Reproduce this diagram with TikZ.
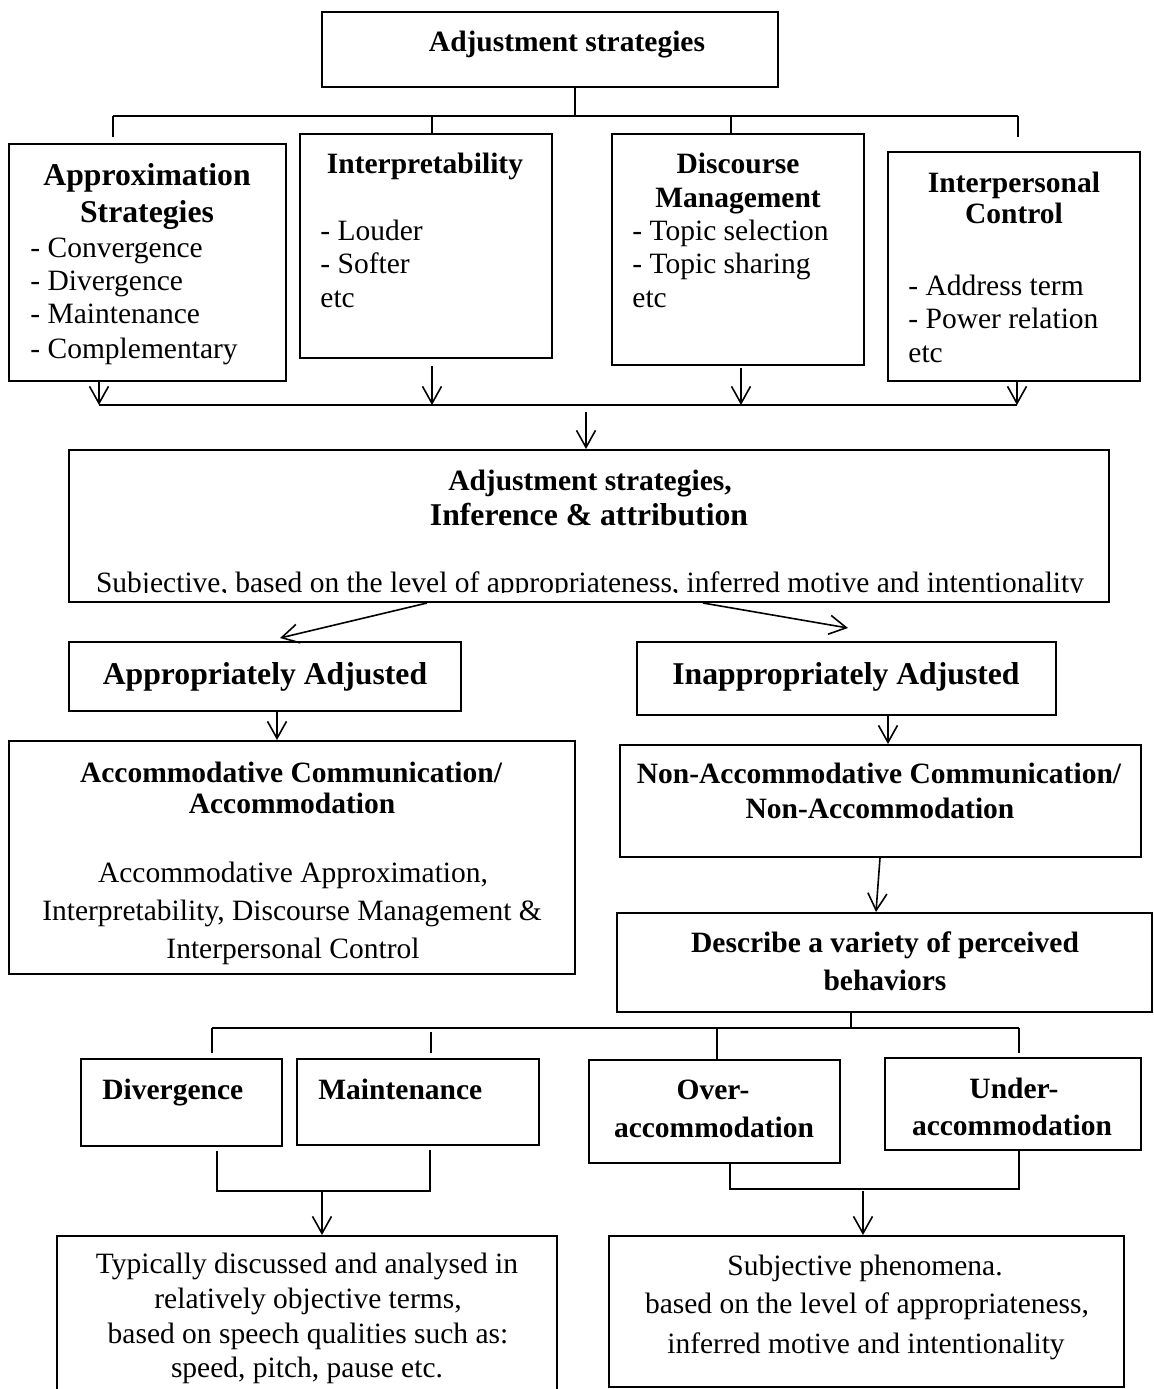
\documentclass[tikz,border=0pt]{standalone}
\usepackage{fontspec}
\setmainfont{Liberation Serif}
\usetikzlibrary{arrows.meta,fit}
\tikzset{
  box/.style={draw, line width=1pt, inner sep=0pt},
  conn/.style={line width=0.8pt},
  arr/.style={conn, -{Straight Barb[length=8.5pt,width=9.5pt,line width=0.8pt]}},
  tr/.style={font=\fontsize{14.75}{17}\selectfont, inner sep=0pt, anchor=base},
  tb/.style={font=\fontsize{14.75}{17}\selectfont\bfseries, inner sep=0pt, anchor=base},
  tB/.style={font=\fontsize{15.85}{19}\selectfont\bfseries, inner sep=0pt, anchor=base},
  lf/.style={anchor=base west}
}
\begin{document}
\begin{tikzpicture}[x=0.5pt,y=-0.5pt]
\clip (0,0) rectangle (1154,1389);
\fill[white] (0,0) rectangle (1154,1389);

% ---------- boxes ----------
\node[box, fit={(322,12) (778,87)}] (top) {};
\node[box, fit={(9,144) (286,381)}] (ap) {};
\node[box, fit={(300,134) (552,358)}] (ip) {};
\node[box, fit={(612,134) (864,365)}] (dm) {};
\node[box, fit={(888,152) (1140,381)}] (ic) {};
\node[box, fit={(69,450) (1109,602)}] (big) {};
\node[box, fit={(69,642) (461,711)}] (aa) {};
\node[box, fit={(637,642) (1056,715)}] (ia) {};
\node[box, fit={(9,741) (575,974)}] (ac) {};
\node[box, fit={(620,745) (1141,857)}] (nac) {};
\node[box, fit={(617,913) (1152,1012)}] (desc) {};
\node[box, fit={(81,1059) (282,1146)}] (dv) {};
\node[box, fit={(297,1059) (539,1145)}] (mt) {};
\node[box, fit={(589,1060) (840,1163)}] (ov) {};
\node[box, fit={(885,1058) (1141,1150)}] (un) {};
\node[box, fit={(57,1236) (557,1410)}] (bl) {};
\node[box, fit={(609,1236) (1124,1387)}] (br) {};

% ---------- texts ----------
\node[tb] (t0) at (567,51) {Adjustment strategies};

\node[tB] (a1) at (147,185) {Approximation};
\node[tB] (a2) at (147,222) {Strategies};
\node[tr,lf] (a3) at (30,257) {- Convergence};
\node[tr,lf] (a4) at (30,290) {- Divergence};
\node[tr,lf] (a5) at (30,323) {- Maintenance};
\node[tr,lf] (a6) at (30,358) {- Complementary};

\node[tb] (i1) at (425,173) {Interpretability};
\node[tr,lf] (i2) at (320,240) {- Louder};
\node[tr,lf] (i3) at (320,273) {- Softer};
\node[tr,lf] (i4) at (320,307) {etc};

\node[tb] (d1) at (738,173) {Discourse};
\node[tb] (d2) at (738,207) {Management};
\node[tr,lf] (d3) at (632,240) {- Topic selection};
\node[tr,lf] (d4) at (632,273) {- Topic sharing};
\node[tr,lf] (d5) at (632,307) {etc};

\node[tb] (c1) at (1014,192) {Interpersonal};
\node[tb] (c2) at (1014,223) {Control};
\node[tr,lf] (c3) at (908,295) {- Address term};
\node[tr,lf] (c4) at (908,328) {- Power relation};
\node[tr,lf] (c5) at (908,362) {etc};

\node[tb] (g1) at (590,490) {Adjustment strategies,};
\node[tB] (g2) at (589,525) {Inference \& attribution};
\begin{scope}
\clip (69,450) rectangle (1109,592);
\node[tr] (g3) at (590,592) {Subjective, based on the level of appropriateness, inferred motive and intentionality};
\end{scope}

\node[tB] (aat) at (265,684) {Appropriately Adjusted};
\node[tB] (iat) at (846,684) {Inappropriately Adjusted};

\node[tb] (ac1) at (291,782) {Accommodative Communication/};
\node[tb] (ac2) at (292,813) {Accommodation};
\node[tr] (ac3) at (293,882) {Accommodative Approximation,};
\node[tr] (ac4) at (292,920) {Interpretability, Discourse Management \&};
\node[tr] (ac5) at (293,958) {Interpersonal Control};

\node[tb] (n1) at (879,783) {Non-Accommodative Communication/};
\node[tb] (n2) at (880,818) {Non-Accommodation};

\node[tb] (s1) at (885,952) {Describe a variety of perceived};
\node[tb] (s2) at (885,990) {behaviors};

\node[tb,lf] (dvt) at (102,1099) {Divergence};
\node[tb,lf] (mtt) at (318,1099) {Maintenance};
\node[tb] (ov1) at (713,1099) {Over-};
\node[tb] (ov2) at (714,1137) {accommodation};
\node[tb] (un1) at (1014,1098) {Under-};
\node[tb] (un2) at (1012,1135) {accommodation};

\node[tr] (b1) at (307,1273) {Typically discussed and analysed in};
\node[tr] (b2) at (308,1308) {relatively objective terms,};
\node[tr] (b3) at (308,1343) {based on speech qualities such as:};
\node[tr] (b4) at (307,1377) {speed, pitch, pause etc.};

\node[tr] (r1) at (865,1275) {Subjective phenomena.};
\node[tr] (r2) at (867,1313) {based on the level of appropriateness,};
\node[tr] (r3) at (866,1353) {inferred motive and intentionality};

% ---------- connectors: top tree ----------
\coordinate (j0) at (575,116);
\coordinate (u1) at (113,116);
\coordinate (u2) at (432,116);
\coordinate (u3) at (731,116);
\coordinate (u4) at (1018,116);
\draw[conn] (top.south -| j0) -- (j0);
\draw[conn] (u1) -- (u4);
\draw[conn] (u1) -- ++(0,21);
\draw[conn] (u2) -- (ip.north -| u2);
\draw[conn] (u3) -- (dm.north -| u3);
\draw[conn] (u4) -- ++(0,21);

% ---------- connectors: collector bus ----------
\coordinate (v1) at (99,405);
\coordinate (v2) at (432,405);
\coordinate (v3) at (741,405);
\coordinate (v4) at (1017,405);
\draw[conn] (v1) -- (v4);
\draw[arr] (ap.south -| v1) -- (v1);
\draw[arr] (ip.south -| v2) ++(0,7) -- (v2);
\draw[arr] (dm.south -| v3) ++(0,2) -- (v3);
\draw[arr] (ic.south -| v4) -- (v4);
\coordinate (v0) at (586,412);
\draw[arr] (v0) -- (big.north -| v0);

% ---------- connectors: middle ----------
\coordinate (w1) at (427,602);
\coordinate (w1t) at (280,638);
\coordinate (w2) at (703,602);
\coordinate (w2t) at (848,628);
\draw[arr] (big.south -| w1) -- (w1t);
\draw[arr] (big.south -| w2) -- (w2t);
\coordinate (x1) at (277,700);
\coordinate (x2) at (888,700);
\draw[arr] (aa.south -| x1) -- (ac.north -| x1);
\draw[arr] (ia.south -| x2) -- (nac.north -| x2);
\coordinate (x3) at (880,800);
\coordinate (x4) at (876,900);
\draw[arr] (nac.south -| x3) -- (desc.north -| x4);

% ---------- connectors: lower tree ----------
\coordinate (y0) at (851,1028);
\coordinate (y1) at (212,1028);
\coordinate (y2) at (431,1028);
\coordinate (y3) at (717,1028);
\coordinate (y4) at (1019,1028);
\draw[conn] (desc.south -| y0) -- (y0);
\draw[conn] (y1) -- (y4);
\draw[conn] (y1) -- ++(0,25);
\draw[conn] (y2) ++(0,4) -- ++(0,21);
\draw[conn] (y3) -- (ov.north -| y3);
\draw[conn] (y4) -- ++(0,25);

% ---------- brackets ----------
\coordinate (k1) at (217,1191);
\coordinate (k2) at (430,1191);
\coordinate (k0) at (322,1191);
\draw[conn] (dv.south -| k1) ++(0,4) -- (k1) -- (k2) -- ++(0,-41);
\draw[arr] (k0) -- (bl.north -| k0);
\coordinate (m1) at (730,1189);
\coordinate (m2) at (1019,1189);
\coordinate (m0) at (863,1191);
\draw[conn] (ov.south -| m1) -- (m1) -- (m2) -- (un.south -| m2);
\draw[arr] (m0) -- (br.north -| m0);
\end{tikzpicture}
\end{document}
